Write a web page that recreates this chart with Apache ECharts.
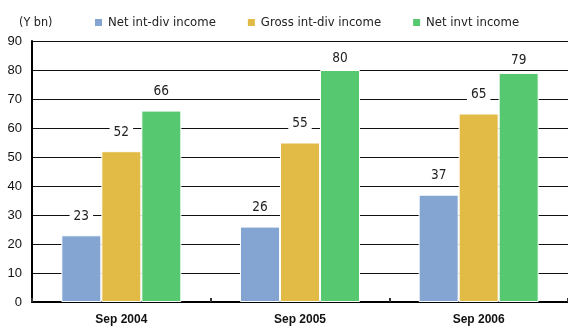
<!DOCTYPE html>
<html>
<head>
<meta charset="utf-8">
<script src="https://cdn.jsdelivr.net/npm/echarts@6/dist/echarts.min.js"></script>
<style>
html,body{margin:0;padding:0;background:#fff;}
#chart{width:568px;height:326px;}
</style>
</head>
<body>
<div id="chart"></div>
<script>
// Investment income by half-year, in yen billions
const categories = ['Sep 2004', 'Sep 2005', 'Sep 2006'];
const seriesNames = ['Net int-div income', 'Gross int-div income', 'Net invt income'];
const netIntDiv = [23, 26, 37];
const grossIntDiv = [52, 55, 65];
const netInvt = [66, 80, 79];
const colors = ['#84A4D2', '#E2BA46', '#56C870'];

const yMax = 90;
const narrow = "'Liberation Sans Narrow', 'DejaVu Sans Condensed', 'Liberation Sans', sans-serif";

const chart = echarts.init(document.getElementById('chart'), null, {renderer: 'canvas'});

// Value labels sit well above each bar, but tall bars pull theirs in
// so the label stays inside the plot area.
function barSeries(name, data, color) {
  return {
    name: name,
    type: 'bar',
    data: data.map(v => ({
      value: v,
      label: {distance: v > yMax - 12 ? 5 : 12}
    })),
    barWidth: 40,
    barGap: '0%',
    itemStyle: {color: color, borderColor: '#fff', borderWidth: 1},
    label: {
      show: true,
      position: 'top',
      color: '#222',
      fontFamily: narrow,
      fontSize: 13.5,
      backgroundColor: '#fff',
      padding: [0, 4]
    }
  };
}

chart.setOption({
  animation: false,
  color: colors,
  grid: {left: 32, right: -4, top: 41, bottom: 24, containLabel: false},
  title: {
    text: '(Y bn)',
    left: 14, top: 11,
    textStyle: {fontFamily: narrow, fontSize: 12.5, fontWeight: 'normal', color: '#222'}
  },
  legend: {
    data: seriesNames,
    left: 88, top: 11,
    itemWidth: 9, itemHeight: 9,
    itemGap: 30,
    icon: 'rect',
    textStyle: {fontFamily: narrow, fontSize: 13, color: '#222'}
  },
  xAxis: {
    type: 'category',
    data: categories,
    axisLine: {lineStyle: {color: '#000', width: 2}},
    axisTick: {show: true, inside: true, length: 4, lineStyle: {color: '#333', width: 2}},
    axisLabel: {fontFamily: "'Liberation Sans', sans-serif", fontWeight: 'bold', fontSize: 12, color: '#111', margin: 12}
  },
  yAxis: {
    type: 'value',
    min: 0, max: yMax, interval: 10,
    axisLine: {show: true, lineStyle: {color: '#000', width: 2}},
    axisTick: {show: false},
    splitLine: {show: true, lineStyle: {color: '#111', width: 1}},
    axisLabel: {fontFamily: "'Liberation Sans', sans-serif", fontSize: 13, color: '#111', margin: 10}
  },
  series: [
    barSeries(seriesNames[0], netIntDiv, colors[0]),
    barSeries(seriesNames[1], grossIntDiv, colors[1]),
    barSeries(seriesNames[2], netInvt, colors[2])
  ]
});
</script>
</body>
</html>
